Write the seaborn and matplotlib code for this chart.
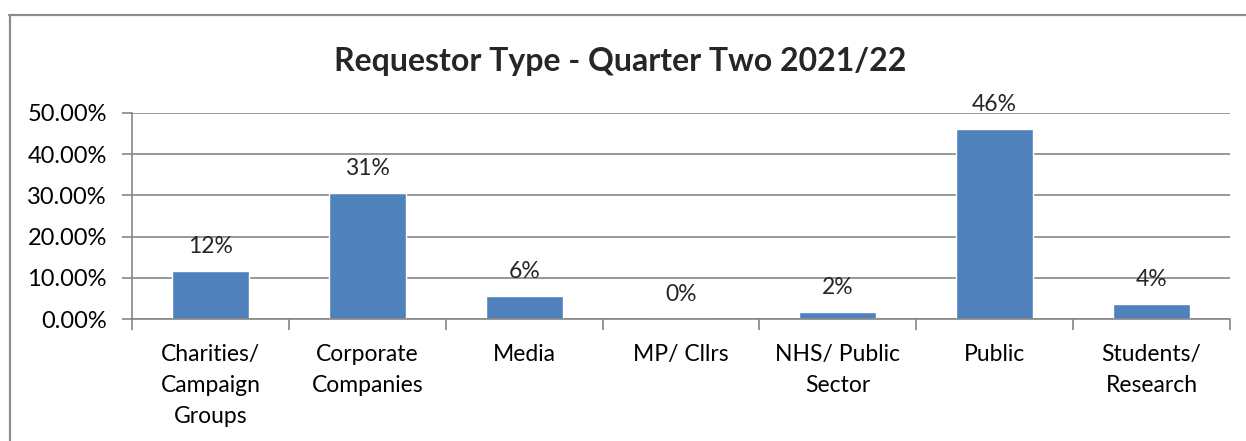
import matplotlib
matplotlib.use("Agg")
import matplotlib.pyplot as plt
import seaborn as sns
import pandas as pd
from matplotlib.ticker import PercentFormatter, FixedLocator
from matplotlib.lines import Line2D

categories = ["Charities/\nCampaign\nGroups", "Corporate\nCompanies", "Media", "MP/ Cllrs",
              "NHS/ Public\nSector", "Public", "Students/\nResearch"]
values = [0.116, 0.306, 0.056, 0.0, 0.018, 0.461, 0.037]
labels = ["12%", "31%", "6%", "0%", "2%", "46%", "4%"]
title = "Requestor Type - Quarter Two 2021/22"

sns.set_style("white")
plt.rcParams["font.family"] = ["Lato", "DejaVu Sans"]

df = pd.DataFrame({"cat": categories, "val": values})

fig = plt.figure(figsize=(12.46, 4.41), dpi=100)
ax = fig.add_axes([132/1246, 1-319/441, (1230-132)/1246, (319-113)/441])

sns.barplot(data=df, x="cat", y="val", ax=ax, color="#4F81BD", width=0.49,
            saturation=1, edgecolor="white", linewidth=1)

ax.set_ylim(0, 0.5)
ax.set_xlim(-0.5, len(categories) - 0.5)
ax.yaxis.set_major_locator(FixedLocator([0, 0.1, 0.2, 0.3, 0.4, 0.5]))
ax.yaxis.set_major_formatter(PercentFormatter(1.0, decimals=2))
ax.set_xlabel("")
ax.set_ylabel("")
ax.grid(axis="y", color="#868686", linewidth=1.2)
ax.set_axisbelow(True)

for s in ["top", "right"]:
    ax.spines[s].set_visible(False)
for s in ["left", "bottom"]:
    ax.spines[s].set_color("#868686")
    ax.spines[s].set_linewidth(1.2)

ax.tick_params(axis="y", which="major", length=7, width=1.2, color="#868686",
               labelsize=17, pad=11, left=True, labelcolor="black")
ax.tick_params(axis="x", which="major", length=0, labelsize=16.5, pad=18, labelcolor="black")
for t in ax.get_xticklabels():
    t.set_linespacing(1.6)
ax.set_xticks([i - 0.5 for i in range(len(categories) + 1)], minor=True)
ax.tick_params(axis="x", which="minor", length=8, width=1.2, color="#868686", bottom=True)

ax.bar_label(ax.containers[0], labels=labels, padding=10, fontsize=16.5)

fig.text(0.498, 1-62/441, title, ha="center", va="center", fontsize=23, fontweight="bold")

fig.add_artist(Line2D([9.5/1246, 9.5/1246], [0, 1-15/441], transform=fig.transFigure,
                      color="#8c8c8c", linewidth=1.6))
fig.add_artist(Line2D([9/1246, 1], [1-15/441, 1-15/441], transform=fig.transFigure,
                      color="#8c8c8c", linewidth=1.6))

fig.savefig("out.png", dpi=100)
